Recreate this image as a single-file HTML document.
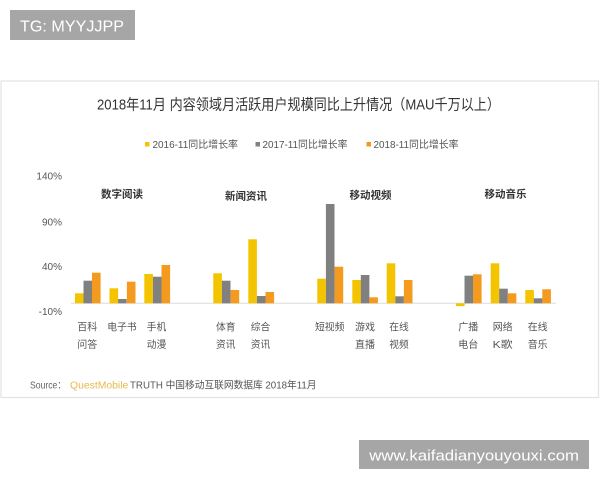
<!DOCTYPE html>
<html><head><meta charset="utf-8">
<style>
html,body{margin:0;padding:0;background:#fff;}
svg{display:block;}
text{font-family:"Liberation Sans","Noto Sans CJK SC",sans-serif;}
</style></head>
<body>
<svg width="600" height="480" viewBox="0 0 600 480" xmlns="http://www.w3.org/2000/svg">
<rect x="0" y="0" width="600" height="480" fill="#fff"/>
<!-- TG box -->
<rect x="10" y="10" width="125" height="30" fill="#a6a6a6"/>
<text x="20" y="31.5" font-size="16" fill="#fff" textLength="104" lengthAdjust="spacingAndGlyphs">TG: MYYJJPP</text>

<!-- card -->
<rect x="1" y="81" width="597.5" height="316.5" fill="#fff" stroke="#e3e3e3" stroke-width="1.2"/>

<!-- title -->
<text x="97" y="109.5" font-size="15" fill="#333" textLength="403" lengthAdjust="spacingAndGlyphs">2018年11月 内容领域月活跃用户规模同比上升情况（MAU千万以上）</text>

<!-- legend -->
<rect x="145" y="142" width="4.5" height="4.5" fill="#f5c400"/>
<text x="152.5" y="148" font-size="10" fill="#555" textLength="85.5" lengthAdjust="spacingAndGlyphs">2016-11同比增长率</text>
<rect x="255.5" y="142" width="4.5" height="4.5" fill="#808080"/>
<text x="262.5" y="148" font-size="10" fill="#555" textLength="85" lengthAdjust="spacingAndGlyphs">2017-11同比增长率</text>
<rect x="366.5" y="142" width="4.5" height="4.5" fill="#f39a1f"/>
<text x="373.5" y="148" font-size="10" fill="#555" textLength="85" lengthAdjust="spacingAndGlyphs">2018-11同比增长率</text>

<!-- y labels -->
<g font-size="10" fill="#555" text-anchor="end">
<text x="62" y="179.5">140%</text>
<text x="62" y="225.5">90%</text>
<text x="62" y="270.2">40%</text>
<text x="62" y="315.2">-10%</text>
</g>

<!-- group titles -->
<g font-size="10.5" font-weight="bold" fill="#333">
<text x="101" y="197.5" textLength="42" lengthAdjust="spacingAndGlyphs">数字阅读</text>
<text x="225" y="199.3" textLength="42" lengthAdjust="spacingAndGlyphs">新闻资讯</text>
<text x="349.5" y="198.7" textLength="42" lengthAdjust="spacingAndGlyphs">移动视频</text>
<text x="484.5" y="197.3" textLength="42" lengthAdjust="spacingAndGlyphs">移动音乐</text>
</g>

<!-- baseline -->
<line x1="71" y1="303.3" x2="556" y2="303.3" stroke="#dcdcdc" stroke-width="1"/>

<!-- bars -->
<g>
<!-- 百科问答 -->
<rect x="75" y="293.3" width="8.6" height="10" fill="#f5c400"/>
<rect x="83.5" y="280.7" width="8.6" height="22.6" fill="#808080"/>
<rect x="92" y="272.7" width="8.6" height="30.6" fill="#f39a1f"/>
<!-- 电子书 -->
<rect x="109.5" y="288.3" width="8.6" height="15" fill="#f5c400"/>
<rect x="118.1" y="299" width="8.6" height="4.3" fill="#808080"/>
<rect x="126.9" y="281.7" width="8.6" height="21.6" fill="#f39a1f"/>
<!-- 手机动漫 -->
<rect x="144.3" y="274" width="8.6" height="29.3" fill="#f5c400"/>
<rect x="152.9" y="276.7" width="8.6" height="26.6" fill="#808080"/>
<rect x="161.5" y="265" width="8.6" height="38.3" fill="#f39a1f"/>
<!-- 体育资讯 -->
<rect x="213.3" y="273.3" width="8.6" height="30" fill="#f5c400"/>
<rect x="221.9" y="280.7" width="8.6" height="22.6" fill="#808080"/>
<rect x="230.6" y="290" width="8.6" height="13.3" fill="#f39a1f"/>
<!-- 综合资讯 -->
<rect x="248.3" y="239.3" width="8.6" height="64" fill="#f5c400"/>
<rect x="256.9" y="296" width="8.6" height="7.3" fill="#808080"/>
<rect x="265.5" y="292" width="8.6" height="11.3" fill="#f39a1f"/>
<!-- 短视频 -->
<rect x="317.3" y="278.7" width="8.6" height="24.6" fill="#f5c400"/>
<rect x="325.9" y="204" width="8.6" height="99.3" fill="#808080"/>
<rect x="334.6" y="266.7" width="8.6" height="36.6" fill="#f39a1f"/>
<!-- 游戏直播 -->
<rect x="352.3" y="280" width="8.6" height="23.3" fill="#f5c400"/>
<rect x="360.8" y="275" width="8.6" height="28.3" fill="#808080"/>
<rect x="369.3" y="297.3" width="8.6" height="6" fill="#f39a1f"/>
<!-- 在线视频 -->
<rect x="386.7" y="263.3" width="8.6" height="40" fill="#f5c400"/>
<rect x="395.3" y="296.3" width="8.6" height="7" fill="#808080"/>
<rect x="403.9" y="280" width="8.6" height="23.3" fill="#f39a1f"/>
<!-- 广播电台 -->
<rect x="456" y="303.3" width="8.6" height="2.8" fill="#f5c400"/>
<rect x="464.5" y="275.7" width="8.6" height="27.6" fill="#808080"/>
<rect x="473" y="274.3" width="8.6" height="29" fill="#f39a1f"/>
<!-- 网络K歌 -->
<rect x="490.7" y="263.3" width="8.6" height="40" fill="#f5c400"/>
<rect x="499.2" y="288.7" width="8.6" height="14.6" fill="#808080"/>
<rect x="507.7" y="293.3" width="8.6" height="10" fill="#f39a1f"/>
<!-- 在线音乐 -->
<rect x="525.3" y="290" width="8.6" height="13.3" fill="#f5c400"/>
<rect x="533.8" y="298.3" width="8.6" height="5" fill="#808080"/>
<rect x="542.3" y="289.3" width="8.6" height="14" fill="#f39a1f"/>
</g>

<!-- category labels -->
<g font-size="10" fill="#555">
<text x="77.3" y="330.5" textLength="20" lengthAdjust="spacingAndGlyphs">百科</text>
<text x="77.3" y="348" textLength="20" lengthAdjust="spacingAndGlyphs">问答</text>
<text x="107.3" y="330.5" textLength="29.4" lengthAdjust="spacingAndGlyphs">电子书</text>
<text x="146.7" y="330.5" textLength="19.5" lengthAdjust="spacingAndGlyphs">手机</text>
<text x="146.7" y="348" textLength="19.5" lengthAdjust="spacingAndGlyphs">动漫</text>
<text x="216" y="330.5" textLength="19.5" lengthAdjust="spacingAndGlyphs">体育</text>
<text x="216" y="348" textLength="19.5" lengthAdjust="spacingAndGlyphs">资讯</text>
<text x="250.7" y="330.5" textLength="19.5" lengthAdjust="spacingAndGlyphs">综合</text>
<text x="250.7" y="348" textLength="19.5" lengthAdjust="spacingAndGlyphs">资讯</text>
<text x="315" y="330.5" textLength="29.4" lengthAdjust="spacingAndGlyphs">短视频</text>
<text x="355" y="330.5" textLength="20" lengthAdjust="spacingAndGlyphs">游戏</text>
<text x="355" y="348" textLength="20" lengthAdjust="spacingAndGlyphs">直播</text>
<text x="389.3" y="330.5" textLength="19.5" lengthAdjust="spacingAndGlyphs">在线</text>
<text x="389.3" y="348" textLength="19.5" lengthAdjust="spacingAndGlyphs">视频</text>
<text x="458.3" y="330.5" textLength="20" lengthAdjust="spacingAndGlyphs">广播</text>
<text x="458.3" y="348" textLength="20" lengthAdjust="spacingAndGlyphs">电台</text>
<text x="492.7" y="330.5" textLength="20" lengthAdjust="spacingAndGlyphs">网络</text>
<text x="492.7" y="348" textLength="20" lengthAdjust="spacingAndGlyphs">K歌</text>
<text x="527.7" y="330.5" textLength="20" lengthAdjust="spacingAndGlyphs">在线</text>
<text x="527.7" y="348" textLength="20" lengthAdjust="spacingAndGlyphs">音乐</text>
</g>

<!-- source -->
<text x="30" y="388.5" font-size="10" fill="#666" textLength="36" lengthAdjust="spacingAndGlyphs">Source：</text>
<text x="70" y="388.5" font-size="10" fill="#e8b94a" textLength="58.3" lengthAdjust="spacingAndGlyphs">QuestMobile</text>
<text x="130" y="388.5" font-size="10" fill="#555" textLength="186.5" lengthAdjust="spacingAndGlyphs">TRUTH 中国移动互联网数据库 2018年11月</text>

<!-- watermark -->
<rect x="359" y="440" width="230" height="29" fill="#a6a6a6"/>
<text x="369.3" y="460.5" font-size="15" fill="#fff" textLength="209.7" lengthAdjust="spacingAndGlyphs">www.kaifadianyouyouxi.com</text>
</svg>
</body></html>
